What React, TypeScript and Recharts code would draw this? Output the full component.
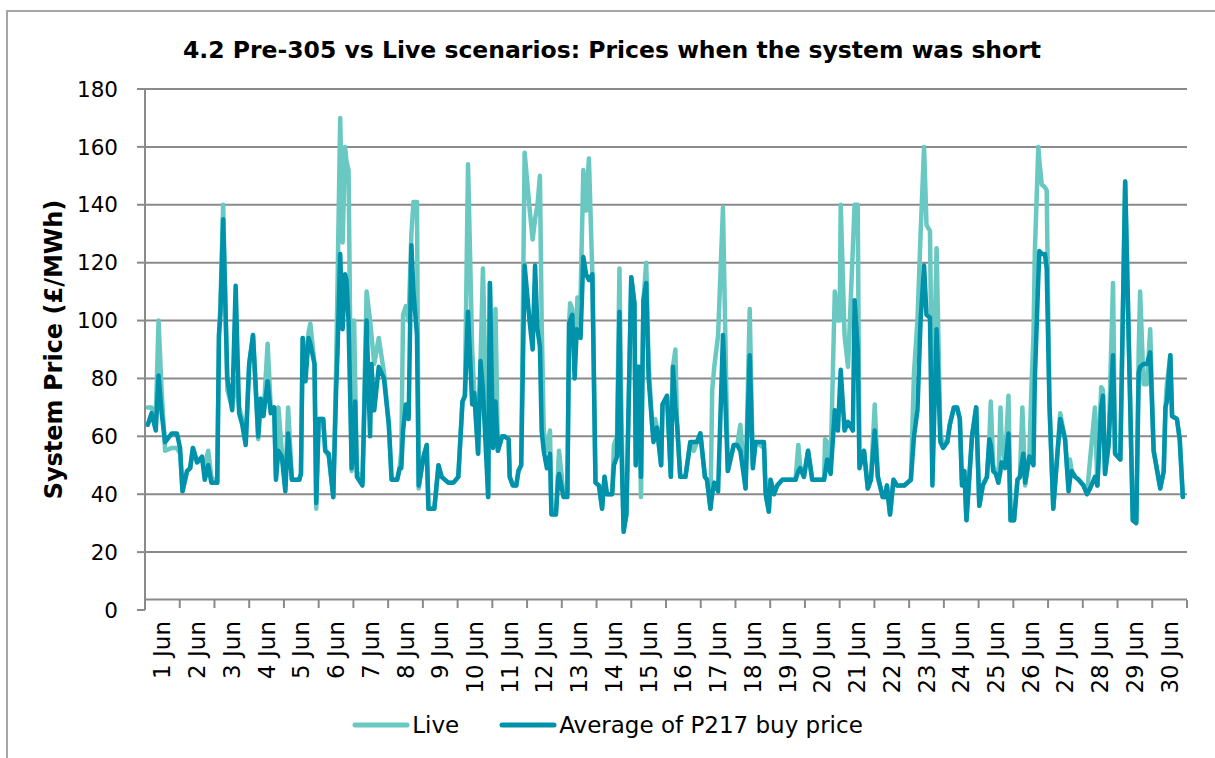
import React from "react";
import { LineChart, Line, XAxis, YAxis, CartesianGrid, ReferenceLine } from "recharts";

// time in days from the start of 1 Jun (one point per short settlement period)
const days = [
  0.08, 0.19, 0.31, 0.39, 0.48, 0.58, 0.77, 0.92, 1.01, 1.08, 1.21, 1.3, 1.38, 1.5, 1.64, 1.72, 1.82, 1.91,
  2.08, 2.13, 2.17, 2.25, 2.37, 2.51, 2.61, 2.71, 2.8, 2.9, 3.0, 3.11, 3.26, 3.33, 3.41, 3.53, 3.62, 3.72,
  3.77, 3.84, 3.94, 4.04, 4.12, 4.23, 4.44, 4.49, 4.54, 4.62, 4.71, 4.76, 4.88, 4.93, 5.0, 5.13, 5.19, 5.29,
  5.42, 5.5, 5.54, 5.62, 5.69, 5.76, 5.8, 5.86, 5.95, 6.02, 6.05, 6.1, 6.26, 6.38, 6.48, 6.52, 6.6, 6.73,
  6.88, 7.02, 7.1, 7.26, 7.33, 7.38, 7.43, 7.51, 7.59, 7.67, 7.73, 7.83, 7.88, 8.02, 8.11, 8.16, 8.33, 8.45,
  8.54, 8.73, 8.88, 9.02, 9.14, 9.21, 9.3, 9.42, 9.48, 9.59, 9.66, 9.73, 9.88, 9.93, 10.02, 10.09, 10.16, 10.28,
  10.35, 10.47, 10.5, 10.59, 10.69, 10.75, 10.83, 10.93, 11.07, 11.16, 11.23, 11.3, 11.37, 11.42, 11.48, 11.57,
  11.66, 11.7, 11.83, 11.9, 11.92, 12.05, 12.16, 12.21, 12.24, 12.3, 12.37, 12.43, 12.45, 12.54, 12.62, 12.7,
  12.78, 12.88, 12.97, 13.07, 13.16, 13.23, 13.3, 13.45, 13.5, 13.59, 13.66, 13.7, 13.78, 13.86, 14.0, 14.09,
  14.13, 14.21, 14.28, 14.35, 14.43, 14.5, 14.6, 14.64, 14.69, 14.74, 14.86, 14.9, 15.03, 15.14, 15.2, 15.27,
  15.32, 15.41, 15.56, 15.7, 15.8, 15.89, 15.99, 16.12, 16.18, 16.28, 16.33, 16.39, 16.5, 16.64, 16.78, 16.95,
  17.05, 17.14, 17.29, 17.41, 17.5, 17.58, 17.82, 17.87, 17.96, 18.01, 18.11, 18.2, 18.35, 18.73, 18.81, 18.86,
  18.97, 19.09, 19.21, 19.55, 19.58, 19.64, 19.74, 19.86, 19.95, 20.0, 20.03, 20.14, 20.24, 20.38, 20.43, 20.52,
  20.57, 20.7, 20.81, 20.9, 21.01, 21.1, 21.24, 21.3, 21.36, 21.45, 21.55, 21.65, 21.86, 22.05, 22.14, 22.24,
  22.33, 22.43, 22.5, 22.6, 22.67, 22.79, 22.9, 22.98, 23.1, 23.17, 23.29, 23.38, 23.46, 23.52, 23.59, 23.65,
  23.81, 23.93, 24.02, 24.12, 24.24, 24.31, 24.35, 24.42, 24.5, 24.57, 24.63, 24.66, 24.76, 24.86, 24.92, 25.02,
  25.12, 25.19, 25.26, 25.29, 25.34, 25.46, 25.53, 25.58, 25.62, 25.72, 25.75, 25.82, 25.91, 25.96, 26.04, 26.15,
  26.25, 26.35, 26.49, 26.59, 26.63, 26.68, 26.78, 26.88, 27.02, 27.12, 27.21, 27.35, 27.42, 27.53, 27.58, 27.64,
  27.74, 27.87, 27.93, 28.08, 28.22, 28.44, 28.54, 28.61, 28.65, 28.75, 28.85, 28.94, 29.04, 29.23, 29.33, 29.38,
  29.42, 29.52, 29.57, 29.71, 29.79, 29.88,
];

const live = [
  70, 70, 66, 100, 75, 55, 56, 56, 54, 41, 48, 49, 56, 51, 52, 50, 55, 46,
  44, 95, 105, 140, 76, 70, 80, 70, 66, 58, 85, 95, 59, 73, 67, 92, 70, 70,
  46, 70, 55, 42, 70, 45, 45, 47, 94, 82, 96, 99, 85, 35, 66, 66, 55, 53,
  39, 82, 110, 170, 127, 160, 155, 152, 48, 100, 80, 48, 44, 110, 100, 95, 85, 94,
  82, 64, 45, 45, 49, 55, 102, 105, 100, 130, 141, 141, 42, 53, 57, 35, 35, 50,
  46, 44, 44, 46, 72, 74, 154, 90, 75, 54, 86, 118, 39, 113, 60, 104, 55, 60,
  60, 59, 46, 43, 43, 48, 50, 158, 139, 128, 135, 140, 150, 100, 62, 55,
  62, 35, 33, 50, 55, 40, 40, 99, 106, 104, 85, 100, 108, 108, 152, 138,
  156, 116, 44, 43, 35, 46, 40, 40, 57, 60, 118, 80, 28, 33, 115, 106,
  50, 84, 39, 107, 120, 85, 64, 60, 66, 63, 50, 71, 74, 46, 84, 90,
  64, 46, 46, 58, 55, 58, 61, 46, 45, 35, 76, 84, 95, 139, 48, 57,
  57, 64, 42, 104, 50, 58, 56, 40, 34, 45, 40, 43, 45, 45, 57, 50,
  46, 55, 45, 45, 59, 58, 50, 110, 100, 100, 140, 95, 84, 125, 140, 140,
  52, 55, 42, 45, 71, 46, 39, 39, 43, 33, 45, 43, 43, 45, 82, 100,
  130, 160, 133, 131, 60, 125, 60, 58, 58, 64, 70, 70, 66, 45, 48, 31,
  60, 70, 36, 43, 46, 59, 72, 50, 47, 44, 70, 60, 50, 74, 31, 31,
  45, 46, 70, 60, 43, 53, 80, 95, 124, 160, 155, 147, 146, 145, 71, 35,
  51, 68, 59, 42, 52, 48, 46, 45, 43, 40, 52, 70, 43, 77, 76, 47,
  57, 113, 54, 52, 148, 31, 31, 90, 110, 78, 78, 97, 55, 42, 48, 70,
  78, 88, 67, 66, 59, 39,
];

const avg = [
  64, 68, 62, 81, 68, 58, 61, 61, 56, 41, 48, 49, 56, 51, 53, 45, 50, 44,
  44, 95, 102, 135, 80, 69, 112, 68, 64, 57, 85, 95, 60, 73, 67, 79, 68, 70,
  45, 55, 53, 41, 61, 45, 45, 47, 94, 79, 94, 92, 85, 37, 66, 66, 55, 54,
  39, 75, 88, 123, 97, 116, 114, 100, 49, 60, 72, 46, 43, 100, 60, 85, 69, 84,
  80, 64, 45, 45, 49, 49, 62, 71, 66, 126, 110, 95, 43, 53, 57, 35, 35, 50,
  46, 44, 44, 46, 72, 74, 103, 71, 75, 54, 86, 76, 39, 113, 56, 72, 55, 60,
  60, 59, 46, 43, 43, 48, 50, 119, 100, 90, 119, 97, 91, 62, 55, 49,
  54, 33, 33, 46, 47, 39, 39, 99, 100, 102, 80, 97, 95, 94, 122, 116,
  114, 116, 44, 43, 35, 46, 40, 40, 50, 53, 103, 64, 27, 33, 115, 106,
  50, 84, 46, 107, 113, 80, 64, 58, 62, 63, 50, 71, 74, 46, 84, 70,
  64, 46, 46, 58, 58, 58, 61, 46, 45, 35, 40, 44, 41, 95, 48, 57,
  57, 55, 42, 88, 49, 58, 58, 40, 34, 45, 40, 43, 45, 45, 48, 49,
  46, 55, 45, 45, 47, 52, 47, 69, 62, 75, 83, 62, 65, 62, 107, 90,
  49, 55, 42, 45, 62, 46, 39, 39, 43, 33, 45, 43, 43, 45, 60, 69,
  100, 119, 102, 101, 43, 97, 58, 56, 58, 64, 70, 70, 66, 43, 48, 31,
  60, 70, 36, 43, 46, 59, 57, 48, 47, 44, 48, 51, 49, 61, 31, 31,
  45, 46, 52, 54, 44, 53, 52, 50, 80, 115, 124, 123, 123, 118, 71, 35,
  51, 66, 59, 41, 45, 48, 46, 45, 43, 40, 42, 46, 43, 70, 74, 47,
  57, 88, 54, 52, 148, 31, 30, 82, 84, 85, 85, 89, 55, 42, 48, 70,
  72, 88, 67, 66, 59, 39,
];

const dayTicks = [
  0, 1, 2, 3, 4, 5, 6, 7, 8, 9, 10, 11, 12, 13, 14, 15,
  16, 17, 18, 19, 20, 21, 22, 23, 24, 25, 26, 27, 28, 29, 30,
];
const dayLabels = [
  "1 Jun", "2 Jun", "3 Jun", "4 Jun", "5 Jun", "6 Jun", "7 Jun", "8 Jun", "9 Jun", "10 Jun",
  "11 Jun", "12 Jun", "13 Jun", "14 Jun", "15 Jun", "16 Jun", "17 Jun", "18 Jun", "19 Jun", "20 Jun",
  "21 Jun", "22 Jun", "23 Jun", "24 Jun", "25 Jun", "26 Jun", "27 Jun", "28 Jun", "29 Jun", "30 Jun",
];
const yTicks = [0, 20, 40, 60, 80, 100, 120, 140, 160, 180];
const gridValues = [20, 40, 60, 80, 100, 120, 140, 160, 180];
const axisCross = 3.6; // Excel drew the category axis slightly above zero

const series = [
  { key: "live", name: "Live", color: "#69C8C2" },
  { key: "avg", name: "Average of P217 buy price", color: "#0092AB" },
];

const data = days.map((d, i) => ({ day: d, live: live[i], avg: avg[i] }));

const FONT = "'DejaVu Sans', Verdana, Tahoma, sans-serif";
const GRID = "#8a8a8a";

const W = 1215;
const H = 758;
const plotLeft = 145;
const plotRight = 1187;
const plotBottom = 610;
const dayPx = (plotRight - plotLeft) / 30;

const DayTick = (props: any) => {
  const { x, payload } = props;
  const label = dayLabels[payload.value];
  const lx = x + dayPx / 2;
  const ly = plotBottom + 11;
  return (
    <g>
      <line x1={x} x2={x} y1={600} y2={608} stroke={GRID} strokeWidth={2} />
      {label && (
        <text
          x={lx}
          y={ly}
          transform={`rotate(-90 ${lx} ${ly})`}
          textAnchor="end"
          dominantBaseline="central"
          fontSize={23}
          fontFamily={FONT}
          fill="#000"
        >
          {label}
        </text>
      )}
    </g>
  );
};

const YLabel = (props: any) => {
  const vb = props.viewBox || { y: 89, height: 521 };
  const cx = 54;
  const cy = vb.y + vb.height / 2;
  return (
    <text
      x={cx}
      y={cy}
      transform={`rotate(-90 ${cx} ${cy})`}
      textAnchor="middle"
      dominantBaseline="central"
      fontWeight="bold"
      fontSize={24}
      fontFamily={FONT}
      fill="#000"
    >
      System Price (£/MWh)
    </text>
  );
};

export default function App() {
  return (
    <div
      style={{
        position: "absolute",
        left: 0,
        top: 0,
        width: W,
        height: H,
        overflow: "hidden",
        background: "#fff",
        fontFamily: FONT,
      }}
    >
      <div
        style={{
          position: "absolute",
          left: 6,
          top: 10,
          width: 1400,
          height: 1000,
          border: "2px solid #a6a6a6",
        }}
      />
      <svg width={W} height={80} style={{ position: "absolute", left: 0, top: 0 }}>
        <text x={612} y={58} textAnchor="middle" fontWeight="bold" fontSize={23.5} fontFamily={FONT} fill="#000">
          4.2 Pre-305 vs Live scenarios: Prices when the system was short
        </text>
      </svg>
      <div style={{ position: "absolute", left: 0, top: 0 }}>
        <LineChart width={W} height={H} data={data} margin={{ top: 89, right: W - plotRight, bottom: 28, left: 85 }}>
          <CartesianGrid vertical={false} horizontalValues={gridValues} stroke={GRID} strokeWidth={2} />
          <XAxis
            dataKey="day"
            type="number"
            domain={[0, 30]}
            ticks={dayTicks}
            interval={0}
            axisLine={false}
            tickLine={false}
            tick={<DayTick />}
            height={120}
          />
          <YAxis
            domain={[0, 180]}
            ticks={yTicks}
            interval={0}
            width={60}
            tickSize={8}
            tickMargin={19}
            axisLine={{ stroke: GRID, strokeWidth: 2 }}
            tickLine={{ stroke: GRID, strokeWidth: 2 }}
            tick={{ fontSize: 21.5, fill: "#000", fontFamily: FONT }}
            label={<YLabel />}
          />
          <ReferenceLine y={axisCross} stroke={GRID} strokeWidth={2} />
          {series.map((s) => (
            <Line
              key={s.key}
              type="linear"
              dataKey={s.key}
              name={s.name}
              stroke={s.color}
              strokeWidth={4.5}
              strokeLinejoin="round"
              strokeLinecap="round"
              dot={false}
              activeDot={false}
              isAnimationActive={false}
            />
          ))}
        </LineChart>
      </div>
      <div
        style={{
          position: "absolute",
          left: 0,
          top: 710,
          width: W,
          height: 30,
          display: "flex",
          justifyContent: "center",
          alignItems: "center",
          gap: 40,
          fontSize: 23,
          color: "#000",
        }}
      >
        {series.map((s) => (
          <div key={s.key} style={{ display: "flex", alignItems: "center" }}>
            <svg width={58} height={10}>
              <line x1={3} x2={55} y1={5} y2={5} stroke={s.color} strokeWidth={5} strokeLinecap="round" />
            </svg>
            <span style={{ marginLeft: 2 }}>{s.name}</span>
          </div>
        ))}
      </div>
    </div>
  );
}
